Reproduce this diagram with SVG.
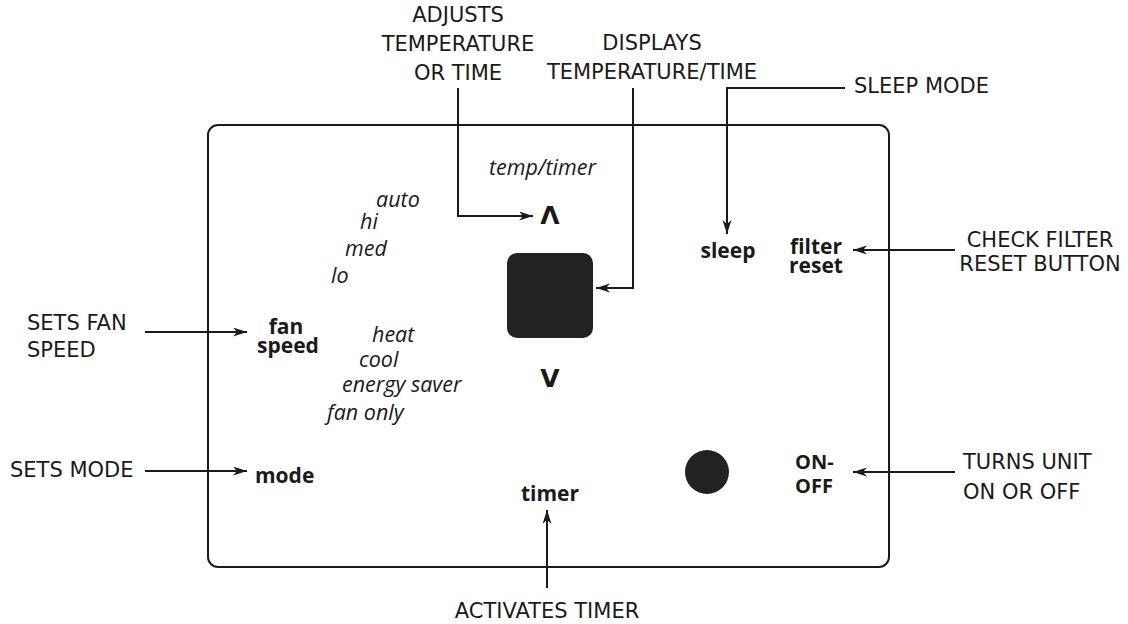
<svg xmlns="http://www.w3.org/2000/svg" width="1128" height="624" viewBox="0 0 1128 624">
<style>
.cap{font-family:"DejaVu Sans","Liberation Sans",sans-serif;font-size:21px;fill:#1a1a1a}
.b{font-family:"Open Sans","Liberation Sans",sans-serif;font-weight:bold;font-size:21px;fill:#1a1a1a}
.i{font-family:"Open Sans","Liberation Sans",sans-serif;font-style:italic;font-size:21.5px;fill:#1a1a1a}
.sym{font-family:"DejaVu Sans","Liberation Sans",sans-serif;font-weight:bold;font-size:25px;fill:#1a1a1a}
.ln{fill:none;stroke:#1a1a1a;stroke-width:2}
.m{text-anchor:middle}
</style>
<defs>
<marker id="ah" markerUnits="userSpaceOnUse" markerWidth="16" markerHeight="10" refX="14" refY="4.5" orient="auto">
<path d="M0,0 L14,4.5 L0,9 L4,4.5 z" fill="#1a1a1a"/>
</marker>
</defs>
<rect width="1128" height="624" fill="#fff"/>
<g id="panel">
<rect x="208" y="125" width="681" height="442" rx="10" fill="none" stroke="#1a1a1a" stroke-width="2"/>
</g>
<g id="display"><rect x="507" y="253" width="86" height="85" rx="10" fill="#222"/></g>
<g id="indicator"><circle cx="707" cy="472" r="22" fill="#222"/></g>
<g id="up"><text class="sym m" x="550" y="224">Λ</text></g>
<g id="down"><text class="sym m" x="550" y="387">V</text></g>
<g id="tempTimer"><text class="i" x="489" y="175">temp/timer</text></g>
<g id="fanOptions">
<text class="i" x="376" y="207">auto</text>
<text class="i" x="360" y="229">hi</text>
<text class="i" x="345" y="256">med</text>
<text class="i" x="331" y="283">lo</text>
</g>
<g id="modeOptions">
<text class="i" x="372" y="342">heat</text>
<text class="i" x="359" y="367">cool</text>
<text class="i" x="342" y="392">energy saver</text>
<text class="i" x="327" y="420">fan only</text>
</g>
<g id="fanSpeed"><text class="b m" x="287" y="334"><tspan x="286">fan</tspan><tspan x="288" dy="19">speed</tspan></text></g>
<g id="mode"><text class="b" x="255" y="483">mode</text></g>
<g id="timer"><text class="b m" x="550" y="501">timer</text></g>
<g id="sleep"><text class="b m" x="728" y="258">sleep</text></g>
<g id="filterReset"><text class="b m" x="816" y="254"><tspan x="816">filter</tspan><tspan x="816" dy="19">reset</tspan></text></g>
<g id="onOff"><text class="b" x="795" y="469" style="font-size:20px"><tspan x="795">ON-</tspan><tspan x="795" dy="24">OFF</tspan></text></g>

<g id="label-adjusts"><text class="cap m" x="458" y="22"><tspan x="458">ADJUSTS</tspan><tspan x="458" dy="29">TEMPERATURE</tspan><tspan x="458" dy="29">OR TIME</tspan></text></g>
<g id="label-displays"><text class="cap m" x="652" y="50"><tspan x="652">DISPLAYS</tspan><tspan x="652" dy="29">TEMPERATURE/TIME</tspan></text></g>
<g id="label-sleep"><text class="cap" x="854" y="93">SLEEP MODE</text></g>
<g id="label-filter"><text class="cap m" x="1040" y="247"><tspan x="1040">CHECK FILTER</tspan><tspan x="1040" dy="24">RESET BUTTON</tspan></text></g>
<g id="label-fan"><text class="cap" x="27" y="330"><tspan x="27">SETS FAN</tspan><tspan x="27" dy="27">SPEED</tspan></text></g>
<g id="label-mode"><text class="cap" x="10" y="477">SETS MODE</text></g>
<g id="label-onoff"><text class="cap" x="963" y="469"><tspan x="963">TURNS UNIT</tspan><tspan x="963" dy="30">ON OR OFF</tspan></text></g>
<g id="label-timer"><text class="cap m" x="547" y="618">ACTIVATES TIMER</text></g>

<g id="connectors">
<path class="ln" d="M458,88 V216 H533" marker-end="url(#ah)"/>
<path class="ln" d="M633,88 V288 H596" marker-end="url(#ah)"/>
<path class="ln" d="M845,88 H727 V234" marker-end="url(#ah)"/>
<path class="ln" d="M955,250 H853" marker-end="url(#ah)"/>
<path class="ln" d="M955,472 H853" marker-end="url(#ah)"/>
<path class="ln" d="M547,588 V510" marker-end="url(#ah)"/>
<path class="ln" d="M145,332 H247" marker-end="url(#ah)"/>
<path class="ln" d="M145,471 H247" marker-end="url(#ah)"/>
</g>
</svg>
